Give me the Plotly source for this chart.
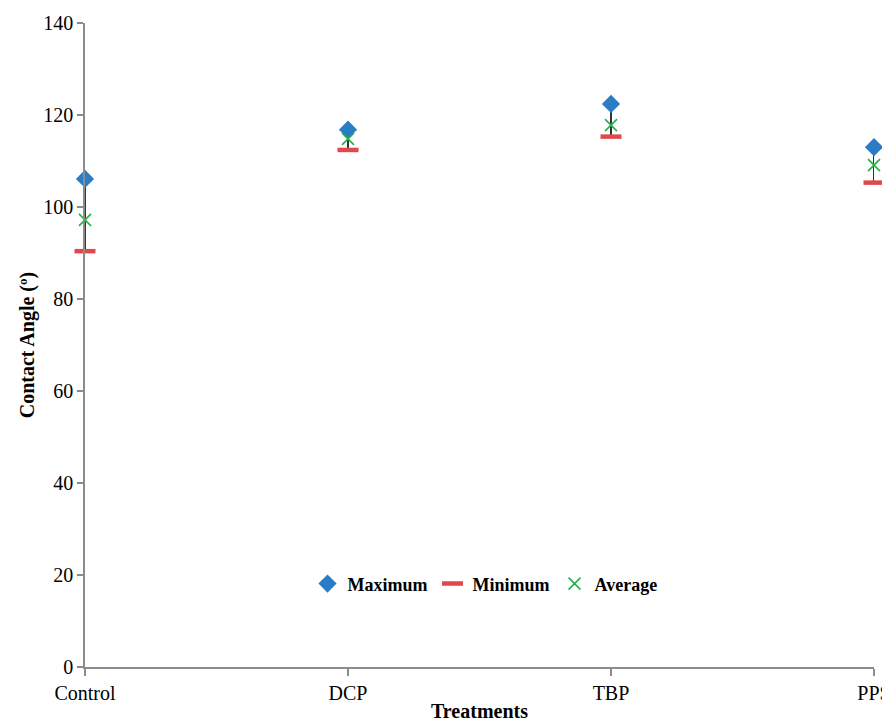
import plotly.graph_objects as go

categories = ["Control", "DCP", "TBP", "PPS"]
maximum = [106.1, 116.8, 122.4, 113.0]
minimum = [90.4, 112.4, 115.3, 105.3]
average = [97.2, 114.8, 117.8, 109.1]
y_ticks = [0, 20, 40, 60, 80, 100, 120, 140]

FONT = "Liberation Serif, Times New Roman, serif"

fig = go.Figure()

# high-low lines (from min to max) via error bars on the minimum trace
fig.add_trace(go.Scatter(
    x=categories, y=minimum, mode="markers",
    marker=dict(size=0.1, color="rgba(0,0,0,0)"),
    error_y=dict(type="data", symmetric=False,
                 array=[mx - mn for mx, mn in zip(maximum, minimum)],
                 arrayminus=[0] * len(minimum),
                 color="black", thickness=1.6, width=0),
    showlegend=False, hoverinfo="skip", cliponaxis=False,
))

fig.add_trace(go.Scatter(
    x=categories, y=maximum, mode="markers", name="Maximum",
    marker=dict(symbol="diamond", size=14, color="#2a7cc4"),
    cliponaxis=False,
))
fig.add_trace(go.Scatter(
    x=categories, y=minimum, mode="markers", name="Minimum",
    marker=dict(symbol="line-ew", size=15, line=dict(width=4.5, color="#e0484c")),
    cliponaxis=False,
))
fig.add_trace(go.Scatter(
    x=categories, y=average, mode="markers", name="Average",
    marker=dict(symbol="x-thin", size=12, line=dict(width=1.6, color="#25b14a")),
    cliponaxis=False,
))

# the page body has an 8px margin, so the figure is sized to fit the window
fig.update_layout(
    width=882, height=714,
    margin=dict(l=77, r=16, t=15, b=55, autoexpand=False),
    paper_bgcolor="white", plot_bgcolor="white",
    font=dict(family=FONT, size=20, color="black"),
    legend=dict(orientation="h", x=0.507, y=0.129, xanchor="center", yanchor="middle",
                font=dict(family=FONT, size=18, color="black", weight="bold"),
                itemwidth=30, tracegroupgap=0, bgcolor="rgba(0,0,0,0)"),
    xaxis=dict(
        type="category", range=[0, 3], showgrid=False, zeroline=False, automargin=False,
        showline=True, linecolor="#8c8c8c", linewidth=1.5,
        ticks="outside", ticklen=7, tickcolor="#8c8c8c", tickwidth=1.5,
        tickfont=dict(family=FONT, size=20),
        title=dict(text="Treatments", font=dict(family=FONT, size=20, weight="bold"), standoff=20),
    ),
    yaxis=dict(
        range=[0, 140], tickvals=y_ticks, showgrid=False, zeroline=False, automargin=False,
        showline=True, linecolor="#8c8c8c", linewidth=1.5,
        ticks="outside", ticklen=6, tickcolor="#8c8c8c", tickwidth=1.5,
        tickfont=dict(family=FONT, size=20),
        title=dict(text="Contact Angle (º)", font=dict(family=FONT, size=20, weight="bold"), standoff=3),
    ),
)

fig.write_html("out.html")
